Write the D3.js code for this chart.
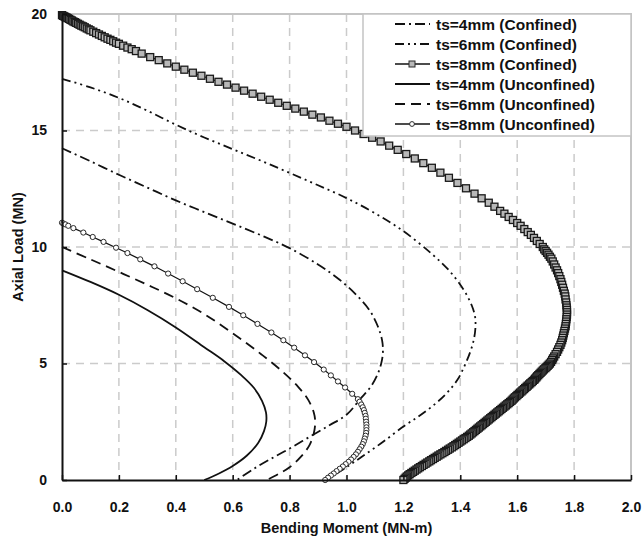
<!DOCTYPE html>
<html><head><meta charset="utf-8">
<script src="https://cdn.jsdelivr.net/npm/d3@7/dist/d3.min.js"></script>
<style>
body{margin:0;background:#fff;}
text{font-family:"Liberation Sans",Arial,sans-serif;font-weight:bold;fill:#111;}
</style>
</head><body>
<svg id="chart" width="642" height="542"></svg>
<script>
// ---------- DATA (Bending Moment MN-m, Axial Load MN) ----------
const xTickValues = [0,0.2,0.4,0.6,0.8,1.0,1.2,1.4,1.6,1.8,2.0];
const yTickValues = [0,5,10,15,20];
const xTitle = "Bending Moment (MN-m)";
const yTitle = "Axial Load (MN)";

const ts4Confined = [[0,14.24],[0.1,13.68],[0.2,13.1],[0.3,12.55],[0.4,12.0],[0.5,11.5],[0.6,11.0],[0.7,10.5],[0.8,9.95],[0.9,9.25],[0.97,8.65],[1.03,8.0],[1.08,7.3],[1.11,6.6],[1.125,6.0],[1.128,5.5],[1.122,5.0],[1.108,4.5],[1.085,4.0],[1.05,3.5],[1.0,2.8],[0.94,2.35],[0.87,1.85],[0.8,1.35],[0.73,0.88],[0.67,0.45],[0.615,0]];

const ts6Confined = [[0,17.22],[0.1,16.85],[0.2,16.4],[0.3,15.85],[0.4,15.25],[0.5,14.7],[0.6,14.2],[0.7,13.7],[0.8,13.18],[0.9,12.65],[1.0,12.1],[1.1,11.45],[1.2,10.68],[1.3,9.7],[1.36,9.0],[1.41,8.2],[1.44,7.5],[1.452,7.0],[1.453,6.5],[1.447,6.0],[1.435,5.5],[1.415,4.9],[1.39,4.3],[1.35,3.7],[1.3,3.15],[1.25,2.7],[1.2,2.3],[1.13,1.65],[1.06,1.05],[1.0,0.55],[0.93,0]];

const ts8Confined = [[0,19.95],[0.004,19.92],[0.008,19.9],[0.012,19.87],[0.016,19.85],[0.02,19.82],[0.025,19.79],[0.03,19.75],[0.035,19.72],[0.04,19.68],[0.045,19.65],[0.05,19.62],[0.056,19.58],[0.062,19.54],[0.068,19.5],[0.074,19.47],[0.08,19.43],[0.087,19.38],[0.094,19.34],[0.1,19.3],[0.11,19.24],[0.12,19.18],[0.13,19.12],[0.14,19.06],[0.15,19.0],[0.16,18.94],[0.17,18.89],[0.18,18.83],[0.19,18.77],[0.2,18.72],[0.215,18.64],[0.23,18.56],[0.245,18.49],[0.26,18.41],[0.28,18.3],[0.31,18.15],[0.34,18.02],[0.37,17.88],[0.4,17.74],[0.43,17.61],[0.46,17.48],[0.49,17.35],[0.52,17.22],[0.55,17.09],[0.58,16.97],[0.61,16.84],[0.64,16.71],[0.67,16.58],[0.7,16.45],[0.73,16.32],[0.76,16.19],[0.79,16.06],[0.82,15.94],[0.85,15.81],[0.88,15.68],[0.91,15.56],[0.94,15.42],[0.97,15.29],[1.0,15.16],[1.03,15.0],[1.06,14.85],[1.09,14.69],[1.12,14.53],[1.15,14.35],[1.18,14.17],[1.21,13.99],[1.24,13.8],[1.27,13.6],[1.3,13.4],[1.33,13.19],[1.36,12.97],[1.39,12.75],[1.42,12.52],[1.45,12.29],[1.475,12.09],[1.5,11.9],[1.52,11.73],[1.54,11.55],[1.555,11.43],[1.57,11.29],[1.585,11.16],[1.6,11.03],[1.612,10.91],[1.625,10.77],[1.637,10.64],[1.648,10.52],[1.659,10.39],[1.669,10.26],[1.679,10.13],[1.69,10.0],[1.695,9.9],[1.7,9.83],[1.705,9.75],[1.71,9.67],[1.715,9.58],[1.72,9.5],[1.725,9.38],[1.73,9.25],[1.735,9.12],[1.74,9.0],[1.744,8.88],[1.748,8.75],[1.752,8.62],[1.755,8.5],[1.758,8.38],[1.761,8.25],[1.764,8.12],[1.767,8.0],[1.769,7.88],[1.77,7.75],[1.772,7.62],[1.773,7.5],[1.774,7.4],[1.775,7.3],[1.775,7.2],[1.775,7.1],[1.774,7.0],[1.773,6.9],[1.772,6.8],[1.771,6.7],[1.77,6.6],[1.768,6.5],[1.766,6.4],[1.764,6.3],[1.762,6.2],[1.76,6.1],[1.758,6.0],[1.755,5.9],[1.752,5.8],[1.748,5.7],[1.744,5.6],[1.74,5.5],[1.735,5.4],[1.73,5.3],[1.726,5.22],[1.723,5.15],[1.719,5.07],[1.715,5.0],[1.711,4.95],[1.707,4.9],[1.703,4.85],[1.699,4.8],[1.694,4.75],[1.69,4.7],[1.686,4.65],[1.682,4.6],[1.678,4.55],[1.674,4.5],[1.67,4.45],[1.667,4.4],[1.663,4.35],[1.66,4.3],[1.655,4.25],[1.651,4.2],[1.646,4.15],[1.642,4.1],[1.637,4.05],[1.633,4.0],[1.628,3.95],[1.624,3.9],[1.619,3.85],[1.615,3.8],[1.61,3.75],[1.606,3.7],[1.601,3.65],[1.597,3.6],[1.592,3.55],[1.588,3.5],[1.584,3.45],[1.58,3.4],[1.575,3.35],[1.57,3.3],[1.565,3.25],[1.56,3.2],[1.555,3.15],[1.55,3.1],[1.545,3.05],[1.54,3.0],[1.535,2.95],[1.53,2.9],[1.525,2.85],[1.52,2.8],[1.515,2.75],[1.51,2.7],[1.505,2.65],[1.5,2.6],[1.495,2.55],[1.49,2.5],[1.485,2.45],[1.48,2.4],[1.475,2.35],[1.47,2.3],[1.465,2.25],[1.46,2.2],[1.455,2.15],[1.45,2.1],[1.445,2.05],[1.44,2.0],[1.435,1.95],[1.43,1.9],[1.424,1.85],[1.418,1.8],[1.412,1.75],[1.406,1.7],[1.4,1.65],[1.394,1.6],[1.388,1.55],[1.382,1.5],[1.376,1.45],[1.37,1.4],[1.363,1.35],[1.357,1.3],[1.35,1.25],[1.344,1.2],[1.337,1.15],[1.33,1.1],[1.323,1.05],[1.317,1.0],[1.31,0.95],[1.304,0.9],[1.297,0.85],[1.291,0.8],[1.284,0.75],[1.278,0.7],[1.271,0.65],[1.265,0.6],[1.258,0.55],[1.252,0.5],[1.246,0.45],[1.24,0.4],[1.234,0.35],[1.228,0.3],[1.222,0.25],[1.217,0.2],[1.212,0.15],[1.208,0.1],[1.204,0.05],[1.2,0]];

const ts4Unconfined = [[0,9.0],[0.1,8.5],[0.2,7.95],[0.3,7.3],[0.4,6.55],[0.5,5.7],[0.57,5.1],[0.63,4.5],[0.675,3.95],[0.703,3.4],[0.717,2.9],[0.718,2.5],[0.71,2.1],[0.69,1.6],[0.65,1.05],[0.6,0.6],[0.55,0.27],[0.5,0]];

const ts6Unconfined = [[0,10.0],[0.1,9.47],[0.2,8.93],[0.3,8.38],[0.4,7.8],[0.5,7.12],[0.6,6.3],[0.7,5.4],[0.78,4.6],[0.83,4.0],[0.865,3.45],[0.885,2.9],[0.89,2.5],[0.885,2.0],[0.87,1.5],[0.84,1.0],[0.8,0.55],[0.76,0.25],[0.72,0]];

const ts8Unconfined = [[0,11.04],[0.005,11.01],[0.012,10.97],[0.022,10.91],[0.04,10.81],[0.075,10.62],[0.108,10.43],[0.146,10.22],[0.19,9.97],[0.23,9.74],[0.275,9.47],[0.325,9.17],[0.373,8.86],[0.424,8.53],[0.475,8.19],[0.53,7.82],[0.587,7.43],[0.637,7.07],[0.687,6.7],[0.736,6.33],[0.778,6.0],[0.816,5.68],[0.854,5.35],[0.886,5.06],[0.92,4.74],[0.945,4.49],[0.97,4.23],[0.995,3.97],[1.02,3.7],[1.04,3.47],[1.046,3.36],[1.052,3.24],[1.057,3.12],[1.061,3.0],[1.064,2.88],[1.067,2.75],[1.068,2.63],[1.069,2.5],[1.07,2.38],[1.07,2.26],[1.07,2.14],[1.069,2.02],[1.067,1.9],[1.064,1.78],[1.061,1.66],[1.057,1.54],[1.052,1.43],[1.046,1.32],[1.04,1.21],[1.033,1.1],[1.025,0.99],[1.016,0.88],[1.007,0.78],[0.997,0.68],[0.987,0.58],[0.976,0.48],[0.965,0.38],[0.955,0.28],[0.945,0.19],[0.935,0.1],[0.925,0]];

const seriesNames = ["ts=4mm (Confined)","ts=6mm (Confined)","ts=8mm (Confined)","ts=4mm (Unconfined)","ts=6mm (Unconfined)","ts=8mm (Unconfined)"];
const seriesData = [ts4Confined, ts6Confined, ts8Confined, ts4Unconfined, ts6Unconfined, ts8Unconfined];

// ---------- STYLES ----------
const styles = [
  {dash:"10,4,2,4", width:1.8, marker:null, curve:true},
  {dash:"9,4,2,4,2,4", width:1.8, marker:null, curve:true},
  {dash:null, width:1.2, marker:"square", curve:false},
  {dash:null, width:1.8, marker:null, curve:true},
  {dash:"10,6", width:1.8, marker:null, curve:true},
  {dash:null, width:1.2, marker:"circle", curve:false}
];

const plotL = 62, plotR = 631, plotT = 14, plotB = 480;
const svg = d3.select("#chart");
const x = d3.scaleLinear().domain([0,2]).range([plotL,plotR]);
const y = d3.scaleLinear().domain([0,20]).range([plotB,plotT]);

// gridlines
const grid = svg.append("g");
grid.selectAll("line.vx").data(xTickValues.filter(v=>v>0 && v<2)).enter().append("line")
  .attr("x1",d=>x(d)).attr("x2",d=>x(d)).attr("y1",plotT).attr("y2",plotB)
  .attr("stroke","#cbcbcb").attr("stroke-width",1.5).attr("stroke-dasharray","8,6");
grid.selectAll("line.hy").data(yTickValues.filter(v=>v>0 && v<20)).enter().append("line")
  .attr("x1",plotL).attr("x2",plotR).attr("y1",d=>y(d)).attr("y2",d=>y(d))
  .attr("stroke","#cbcbcb").attr("stroke-width",1.5).attr("stroke-dasharray","8,6");
// frame top/right
svg.append("path").attr("d",`M${plotL},${plotT}H${plotR}V${plotB}`)
  .attr("fill","none").attr("stroke","#c4c4c4").attr("stroke-width",2);

// curves
const plot = svg.append("g");
seriesData.forEach((data,i)=>{
  const st = styles[i];
  const line = d3.line().x(d=>x(d[0])).y(d=>y(d[1]))
     .curve(st.curve ? d3.curveCatmullRom.alpha(0.5) : d3.curveLinear);
  plot.append("path").datum(data).attr("d",line)
    .attr("fill","none").attr("stroke","#111").attr("stroke-width",st.width)
    .attr("stroke-dasharray",st.dash);
  if(st.marker==="square"){
    plot.selectAll(null).data(data).enter().append("rect")
      .attr("x",d=>x(d[0])-3.5).attr("y",d=>y(d[1])-3.5).attr("width",7).attr("height",7)
      .attr("fill","#b8b8b8").attr("stroke","#1a1a1a").attr("stroke-width",1.3);
  } else if(st.marker==="circle"){
    plot.selectAll(null).data(data).enter().append("circle")
      .attr("cx",d=>x(d[0])).attr("cy",d=>y(d[1])).attr("r",2.6)
      .attr("fill","#fff").attr("stroke","#2a2a2a").attr("stroke-width",1);
  }
});

// axes
const xAxis = d3.axisBottom(x).tickValues(xTickValues).tickFormat(d3.format(".1f"))
  .tickSizeInner(-5).tickSizeOuter(0).tickPadding(22);
const gx = svg.append("g").attr("transform",`translate(0,${plotB})`).call(xAxis);
gx.select(".domain").attr("stroke","#111").attr("stroke-width",2);
gx.selectAll(".tick line").attr("stroke","#111").attr("stroke-width",1.5);
gx.selectAll("text").style("font-size","14px").attr("fill","#111");

const yAxis = d3.axisLeft(y).tickValues(yTickValues).tickFormat(d3.format("d"))
  .tickSizeInner(-5).tickSizeOuter(0).tickPadding(15);
const gy = svg.append("g").attr("transform",`translate(${plotL},0)`).call(yAxis);
gy.select(".domain").attr("stroke","#111").attr("stroke-width",2);
gy.selectAll(".tick line").attr("stroke","#111").attr("stroke-width",1.5);
gy.selectAll("text").style("font-size","14px").attr("fill","#111");

// axis titles
svg.append("text").attr("x",(plotL+plotR)/2).attr("y",533).attr("text-anchor","middle")
  .style("font-size","14.5px").text(xTitle);
svg.append("text").attr("transform",`translate(23,${(plotT+plotB)/2}) rotate(-90)`)
  .attr("text-anchor","middle").style("font-size","14.5px").text(yTitle);

// legend
const lg = svg.append("g");
lg.append("rect").attr("x",363).attr("y",plotT).attr("width",plotR-363).attr("height",122)
  .attr("fill","#fff").attr("stroke","#c4c4c4").attr("stroke-width",1.5);
seriesNames.forEach((name,i)=>{
  const st = styles[i];
  const cy = 24 + i*20;
  lg.append("line").attr("x1",395).attr("x2",430).attr("y1",cy).attr("y2",cy)
    .attr("stroke","#111").attr("stroke-width",st.marker?1.5:2).attr("stroke-dasharray",st.dash);
  if(st.marker==="square"){
    lg.append("rect").attr("x",409).attr("y",cy-3).attr("width",6).attr("height",6)
      .attr("fill","#b8b8b8").attr("stroke","#2a2a2a");
  } else if(st.marker==="circle"){
    lg.append("circle").attr("cx",412).attr("cy",cy).attr("r",2.4)
      .attr("fill","#fff").attr("stroke","#2a2a2a");
  }
  lg.append("text").attr("x",436).attr("y",cy).attr("dy","0.36em")
    .style("font-size","15.5px").text(name);
});
</script>
</body></html>
